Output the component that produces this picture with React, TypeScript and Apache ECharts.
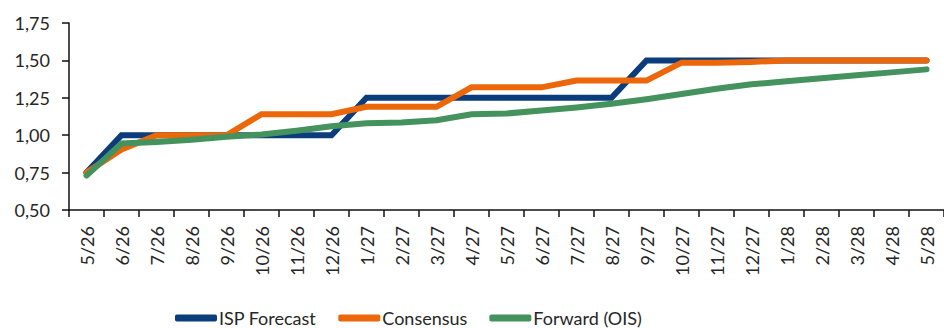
import React, { useEffect, useRef } from "react";
import * as echarts from "echarts";

// Monthly policy-rate path, May 2026 – May 2028
const months = [
  "5/26", "6/26", "7/26", "8/26", "9/26", "10/26", "11/26", "12/26",
  "1/27", "2/27", "3/27", "4/27", "5/27", "6/27", "7/27", "8/27",
  "9/27", "10/27", "11/27", "12/27", "1/28", "2/28", "3/28", "4/28", "5/28",
];

const ispForecast = [
  0.75, 1.0, 1.0, 1.0, 1.0, 1.0, 1.0, 1.0,
  1.25, 1.25, 1.25, 1.25, 1.25, 1.25, 1.25, 1.25,
  1.5, 1.5, 1.5, 1.5, 1.5, 1.5, 1.5, 1.5, 1.5,
];

const consensus = [
  0.75, 0.905, 1.0, 1.0, 1.0, 1.14, 1.14, 1.14,
  1.19, 1.19, 1.19, 1.32, 1.32, 1.32, 1.365, 1.365,
  1.365, 1.485, 1.485, 1.49, 1.5, 1.5, 1.5, 1.5, 1.5,
];

const forwardOis = [
  0.73, 0.945, 0.955, 0.97, 0.99, 1.005, 1.03, 1.06,
  1.08, 1.085, 1.1, 1.14, 1.145, 1.165, 1.185, 1.21,
  1.24, 1.275, 1.31, 1.34, 1.36, 1.38, 1.4, 1.42, 1.44,
];

const FONT = "Lato";
const TEXT = "#262626";

export default function App() {
  const ref = useRef<HTMLDivElement>(null);

  useEffect(() => {
    if (!ref.current) return;
    const chart = echarts.init(ref.current, undefined, { renderer: "svg" });

    const lineSeries = (name: string, data: number[], color: string) => ({
      name,
      type: "line",
      data,
      symbol: "none",
      color,
      lineStyle: { color, width: 6, cap: "round", join: "miter" },
    });

    chart.setOption({
      animation: false,
      grid: { left: 69, top: 23, bottom: 118, right: -10, containLabel: false },
      legend: {
        left: 170,
        top: 304,
        itemWidth: 42,
        itemHeight: 7,
        itemGap: 22,
        icon: "roundRect",
        textStyle: { fontFamily: FONT, fontSize: 18, color: TEXT, padding: [0, 0, 0, -3] },
        data: ["ISP Forecast", "Consensus", "Forward (OIS)"],
      },
      xAxis: {
        type: "category",
        data: months,
        boundaryGap: true,
        axisLine: { lineStyle: { color: "#111", width: 1.5 } },
        axisTick: { show: true, length: 7, lineStyle: { color: "#111", width: 1.5 } },
        axisLabel: {
          rotate: 90,
          interval: 0,
          margin: 16,
          fontFamily: FONT,
          fontSize: 18,
          color: TEXT,
        },
        splitLine: { show: false },
      },
      yAxis: {
        type: "value",
        min: 0.5,
        max: 1.75,
        interval: 0.25,
        axisLine: { show: true, lineStyle: { color: "#111", width: 1.5 } },
        axisTick: { show: true, length: 7, lineStyle: { color: "#111", width: 1.5 } },
        axisLabel: {
          margin: 19,
          fontFamily: FONT,
          fontSize: 18,
          color: TEXT,
          formatter: (v: number) => v.toFixed(2).replace(".", ","),
        },
        splitLine: { show: false },
      },
      series: [
        lineSeries("ISP Forecast", ispForecast, "#0B3C7B"),
        lineSeries("Consensus", consensus, "#EB6709"),
        lineSeries("Forward (OIS)", forwardOis, "#44925E"),
      ],
    });

    return () => chart.dispose();
  }, []);

  return (
    <div
      ref={ref}
      style={{ position: "absolute", left: 0, top: 0, width: 944, height: 328, background: "#fff" }}
    />
  );
}
